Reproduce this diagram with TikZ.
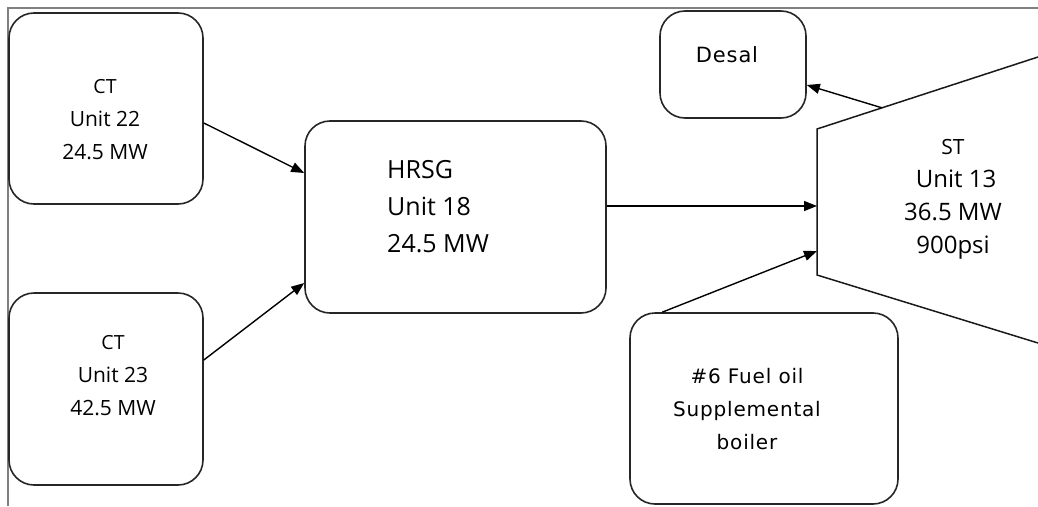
\documentclass[tikz,border=0pt]{standalone}
\usepackage{fontspec}
\setmainfont{Open Sans}
\newfontfamily\tahomalike[LetterSpace=4]{DejaVu Sans}
\usetikzlibrary{arrows.meta,calc}
\begin{document}
\begin{tikzpicture}[x=1pt,y=-1pt,
  box/.style={draw=black!85, line width=1.6pt, rounded corners=25pt, inner sep=0pt},
  conn/.style={line width=1.4pt, -{Triangle[length=13pt,width=10pt]}},
  lbl/.style={align=center, font=\fontsize{21}{33}\selectfont, inner sep=0pt},
  frame/.style={draw=black!50, line width=1.2pt}]
\useasboundingbox (0,0) rectangle (1038,506);
\draw[frame] (8,506) -- (8,8) -- (1038,8);

% boxes
\node[box, minimum width=194pt, minimum height=191pt] (ct22) at (106,108.5) {};
\node[box, minimum width=194pt, minimum height=192pt] (ct23) at (106,389) {};
\node[box, minimum width=301pt, minimum height=192pt] (hrsg) at (455.5,217) {};
\node[box, minimum width=146pt, minimum height=107pt] (desal) at (733,64.5) {};
\node[box, minimum width=268pt, minimum height=191pt] (boiler) at (764,408.5) {};

% steam turbine
\coordinate (sttl) at (817,129);
\coordinate (stbl) at (817,275);
\coordinate (sttr) at (1038,57);
\coordinate (stbr) at (1038,343);
\draw[line width=1.5pt, draw=black!90] (sttr) -- (sttl) -- (stbl) -- (stbr);
\coordinate (stin1) at (817,206);
\coordinate (stin2) at (817,251);
\coordinate (stout) at ($(sttl)!0.294!(sttr)$);

% texts
\node[lbl] (ct22t) at (105,120) {{\fontsize{19.5}{33}\selectfont CT}\\Unit 22\\24.5 MW};
\node[lbl] (ct23t) at (113,376) {{\fontsize{19.5}{33}\selectfont CT}\\Unit 23\\42.5 MW};
\node[lbl, align=left, anchor=west, font=\fontsize{25}{37}\selectfont] (hrsgt) at (387,207) {HRSG\\Unit 18\\24.5 MW};
\node[lbl, font=\fontsize{24}{33}\selectfont] (stt) at (953,199) {{\fontsize{21}{33}\selectfont ST}\\\ Unit 13\\36.5 MW\\900psi};
\node[lbl, font=\tahomalike\fontsize{21}{33}\selectfont] (desalt) at (727,55) {Desal};
\node[lbl, font=\tahomalike\fontsize{20}{33}\selectfont] (boilert) at (747,409) {\#6 Fuel oil\\Supplemental\\boiler};

% connectors
\draw[conn] ($(ct22.east)+(0,14.5)$) -- ($(hrsg.west)+(0,-44)$);
\draw[conn] ($(ct23.east)+(0,-29)$) -- ($(hrsg.west)+(0,66)$);
\draw[conn] ($(hrsg.east)+(0,-11)$) -- (stin1);
\draw[conn] ($(boiler.north west)+(33,0)$) -- (stin2);
\draw[conn] (stout) -- ($(desal.east)+(0,20.5)$);
\end{tikzpicture}
\end{document}
